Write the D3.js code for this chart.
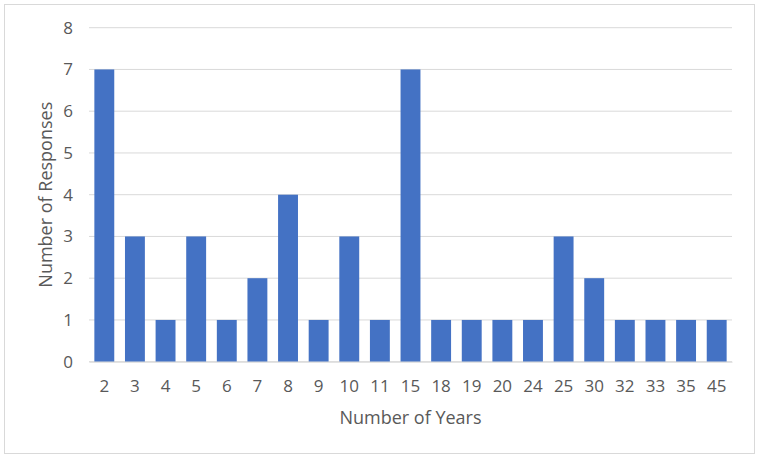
<!DOCTYPE html>
<html>
<head>
<meta charset="utf-8">
<script src="https://cdn.jsdelivr.net/npm/d3@7"></script>
<style>
  body { margin: 0; background: #fff; }
  text { font-family: "Open Sans", "Liberation Sans", sans-serif; fill: #595959; }
</style>
</head>
<body>
<div id="chart"></div>
<script>
// years of experience and how many responses gave each
const years = ["2", "3", "4", "5", "6", "7", "8", "9", "10", "11", "15", "18", "19", "20", "24", "25", "30", "32", "33", "35", "45"];
const responses = [7, 3, 1, 3, 1, 2, 4, 1, 3, 1, 7, 1, 1, 1, 1, 3, 2, 1, 1, 1, 1];
const yTicks = [0, 1, 2, 3, 4, 5, 6, 7, 8];

const width = 759, height = 459;
const margin = {top: 27.7, right: 27, bottom: 97.3, left: 89};

const svg = d3.select("#chart").append("svg")
  .attr("width", width)
  .attr("height", height);

// outer frame
svg.append("rect")
  .attr("x", 4.5).attr("y", 4.5)
  .attr("width", 750).attr("height", 449)
  .attr("fill", "#fff")
  .attr("stroke", "#d9d9d9");

const x = d3.scaleBand()
  .domain(years)
  .range([margin.left, width - margin.right])
  .paddingInner(0.35)
  .paddingOuter(0.175);

const y = d3.scaleLinear()
  .domain([0, 8])
  .range([height - margin.bottom, margin.top]);

// gridlines
svg.append("g")
  .selectAll("line")
  .data(yTicks)
  .join("line")
    .attr("x1", margin.left)
    .attr("x2", width - margin.right)
    .attr("y1", d => y(d))
    .attr("y2", d => y(d))
    .attr("stroke", "#d9d9d9")
    .attr("stroke-width", 1);

// bars
svg.append("g")
  .attr("fill", "#4472c4")
  .selectAll("rect")
  .data(responses)
  .join("rect")
    .attr("x", (d, i) => x(years[i]))
    .attr("y", d => y(d))
    .attr("width", x.bandwidth())
    .attr("height", d => y(0) - y(d));

// y axis labels
const yAxis = svg.append("g")
  .attr("transform", `translate(${margin.left},0)`)
  .call(d3.axisLeft(y).tickValues(yTicks).tickSize(0).tickPadding(16).tickFormat(d3.format("d")));
yAxis.select(".domain").remove();
yAxis.attr("font-size", 17).attr("font-family", null);

// x axis labels
const xAxis = svg.append("g")
  .attr("transform", `translate(0,${y(0)})`)
  .call(d3.axisBottom(x).tickSize(0).tickPadding(18));
xAxis.select(".domain").attr("stroke", "#d9d9d9");
xAxis.attr("font-size", 17).attr("font-family", null);

// axis titles
svg.append("text")
  .attr("x", (margin.left + width - margin.right) / 2)
  .attr("y", 424)
  .attr("text-anchor", "middle")
  .attr("font-size", 18)
  .text("Number of Years");

svg.append("text")
  .attr("transform", `translate(52,${(margin.top + height - margin.bottom) / 2}) rotate(-90)`)
  .attr("text-anchor", "middle")
  .attr("font-size", 18)
  .text("Number of Responses");
</script>
</body>
</html>
